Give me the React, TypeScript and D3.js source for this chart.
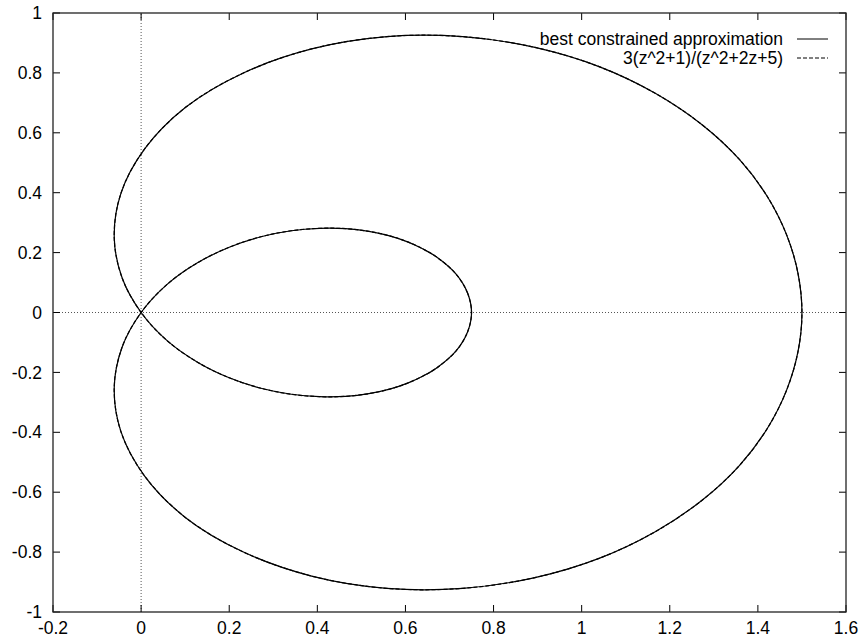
import React from "react";
import * as d3 from "d3";

// points, going round from (0.75, 0)
const curveX = [
  0.75, 0.741, 0.715, 0.67, 0.64, 0.605, 0.564, 0.517, 0.464, 0.405, 0.341,
  0.272, 0.2, 0.128, 0.059, 0, -0.043, -0.061, -0.046, 0.008, 0.101, 0.231,
  0.387, 0.558, 0.73, 0.894, 1.041, 1.168, 1.274, 1.358, 1.421, 1.465, 1.491,
  1.5, 1.491, 1.465, 1.421, 1.358, 1.274, 1.168, 1.041, 0.894, 0.73, 0.558,
  0.387, 0.231, 0.101, 0.008, -0.046, -0.061, -0.043, 0, 0.059, 0.128, 0.2,
  0.272, 0.341, 0.405, 0.464, 0.517, 0.564, 0.605, 0.64, 0.67, 0.715, 0.741,
];
const curveY = [
  0, 0.065, 0.128, 0.186, 0.212, 0.236, 0.256, 0.271, 0.28, 0.281, 0.273,
  0.253, 0.218, 0.166, 0.094, 0, -0.115, -0.25, -0.397, -0.546, -0.685,
  -0.799, -0.88, -0.921, -0.921, -0.885, -0.82, -0.731, -0.626, -0.511, -0.388,
  -0.26, -0.131, 0, 0.131, 0.26, 0.388, 0.511, 0.626, 0.731, 0.82, 0.885,
  0.921, 0.921, 0.88, 0.799, 0.685, 0.546, 0.397, 0.25, 0.115, 0, -0.094,
  -0.166, -0.218, -0.253, -0.273, -0.281, -0.28, -0.271, -0.256, -0.236,
  -0.212, -0.186, -0.128, -0.065,
];

const xTicks = [-0.2, 0, 0.2, 0.4, 0.6, 0.8, 1, 1.2, 1.4, 1.6];
const yTicks = [-1, -0.8, -0.6, -0.4, -0.2, 0, 0.2, 0.4, 0.6, 0.8, 1];
const seriesNames = ["best constrained approximation", "3(z^2+1)/(z^2+2z+5)"];

const W = 859;
const H = 639;
const margin = { top: 13, right: 13, bottom: 27, left: 53 };

export default function App() {
  const x = d3
    .scaleLinear()
    .domain([-0.2, 1.6])
    .range([margin.left, W - margin.right]);
  const y = d3
    .scaleLinear()
    .domain([-1, 1])
    .range([H - margin.bottom, margin.top]);

  const pts: [number, number][] = curveX.map((v, i) => [v, curveY[i]]);
  const line = d3
    .line<[number, number]>()
    .x((d) => x(d[0]))
    .y((d) => y(d[1]))
    .curve(d3.curveCatmullRomClosed.alpha(0.5));
  const path = line(pts) || "";

  const fmt = (v: number) => String(+v.toFixed(1));
  const tk = 7;
  const font = "Liberation Sans, Arial, sans-serif";

  return (
    <svg
      width={W}
      height={H}
      style={{ position: "absolute", left: 0, top: 0, background: "#fff" }}
      fontFamily={font}
      fontSize={17.5}
    >
      {/* zero axes */}
      <line x1={x(0)} x2={x(0)} y1={y(-1)} y2={y(1)} stroke="#555" strokeWidth={1} strokeDasharray="1,2" />
      <line x1={x(-0.2)} x2={x(1.6)} y1={y(0)} y2={y(0)} stroke="#555" strokeWidth={1} strokeDasharray="1,2" />

      {/* ticks */}
      {xTicks.map((t) => (
        <g key={"x" + t}>
          <line x1={x(t)} x2={x(t)} y1={y(-1)} y2={y(-1) - tk} stroke="#000" />
          <line x1={x(t)} x2={x(t)} y1={y(1)} y2={y(1) + tk} stroke="#000" />
          <text x={x(t)} y={634} textAnchor="middle">
            {fmt(t)}
          </text>
        </g>
      ))}
      {yTicks.map((t) => (
        <g key={"y" + t}>
          <line x1={x(-0.2)} x2={x(-0.2) + tk} y1={y(t)} y2={y(t)} stroke="#000" />
          <line x1={x(1.6)} x2={x(1.6) - tk} y1={y(t)} y2={y(t)} stroke="#000" />
          <text x={42} y={y(t)} dy="0.35em" textAnchor="end">
            {fmt(t)}
          </text>
        </g>
      ))}

      {/* frame */}
      <rect
        x={x(-0.2)}
        y={y(1)}
        width={x(1.6) - x(-0.2)}
        height={y(-1) - y(1)}
        fill="none"
        stroke="#222"
        strokeWidth={1.3}
      />

      {/* both series trace the same curve */}
      <path d={path} fill="none" stroke="#000" strokeWidth={1.2} />
      <path d={path} fill="none" stroke="#000" strokeWidth={1.2} strokeDasharray="4,2" />

      {/* legend */}
      {seriesNames.map((name, i) => (
        <g key={name} transform={`translate(0, ${39 + i * 19})`}>
          <text x={783} y={0} dy="0.35em" textAnchor="end">
            {name}
          </text>
          <line
            x1={797}
            x2={828}
            y1={0}
            y2={0}
            stroke="#000"
            strokeDasharray={i === 1 ? "4,2" : undefined}
          />
        </g>
      ))}
    </svg>
  );
}
